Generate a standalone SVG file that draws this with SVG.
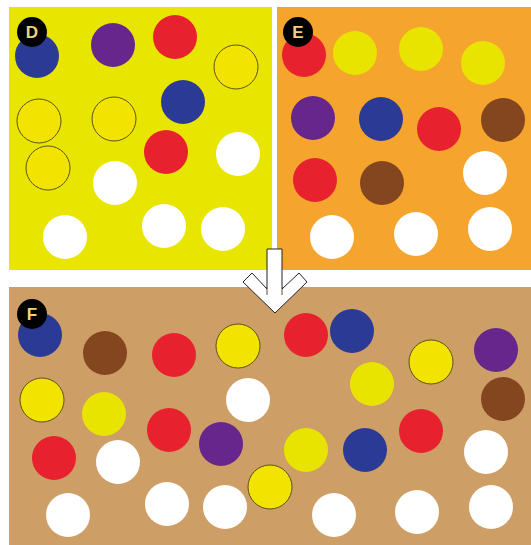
<svg xmlns="http://www.w3.org/2000/svg" width="531" height="545" viewBox="0 0 531 545">
<style>
.b{fill:#2b3a94}.p{fill:#66268c}.r{fill:#e8212e}.w{fill:#ffffff}.n{fill:#84461f}
.yo{fill:#f2e400;stroke:#5e5016;stroke-width:1}
.y{fill:#e8e400}
.lab{fill:#000}
.lt{font-family:"Liberation Sans",Arial,sans-serif;font-weight:bold;font-size:17px;fill:#f0d37a;text-anchor:middle;dominant-baseline:central}
</style>
<rect width="531" height="545" fill="#ffffff"/>
<g id="panelD">
<rect x="9" y="7" width="263" height="263" fill="#e8e600"/>
<circle class="b" cx="37" cy="56" r="22"/>
<circle class="p" cx="113" cy="45" r="22"/>
<circle class="r" cx="175" cy="37" r="22"/>
<circle class="yo" cx="236" cy="67" r="22"/>
<circle class="b" cx="183" cy="102" r="22"/>
<circle class="yo" cx="39" cy="121" r="22"/>
<circle class="yo" cx="114" cy="119" r="22"/>
<circle class="r" cx="166" cy="152" r="22"/>
<circle class="w" cx="238" cy="154" r="22"/>
<circle class="yo" cx="48" cy="168" r="22"/>
<circle class="w" cx="115" cy="183" r="22"/>
<circle class="w" cx="65" cy="237" r="22"/>
<circle class="w" cx="164" cy="226" r="22"/>
<circle class="w" cx="223" cy="229" r="22"/>
<circle class="lab" cx="32" cy="32" r="15"/>
<text class="lt" x="32" y="32">D</text>
</g>
<g id="panelE">
<rect x="277" y="7" width="254" height="263" fill="#f5a52e"/>
<circle class="r" cx="304" cy="55" r="22"/>
<circle class="y" cx="355" cy="53" r="22"/>
<circle class="y" cx="421" cy="49" r="22"/>
<circle class="y" cx="483" cy="63" r="22"/>
<circle class="p" cx="313" cy="118" r="22"/>
<circle class="b" cx="381" cy="119" r="22"/>
<circle class="r" cx="439" cy="129" r="22"/>
<circle class="n" cx="503" cy="120" r="22"/>
<circle class="r" cx="315" cy="180" r="22"/>
<circle class="n" cx="382" cy="183" r="22"/>
<circle class="w" cx="485" cy="173" r="22"/>
<circle class="w" cx="332" cy="237" r="22"/>
<circle class="w" cx="416" cy="234" r="22"/>
<circle class="w" cx="490" cy="229" r="22"/>
<circle class="lab" cx="298" cy="32" r="15"/>
<text class="lt" x="298" y="32">E</text>
</g>
<g id="panelF">
<rect x="9" y="287" width="522" height="258" fill="#cd9e66"/>
<circle class="b" cx="40" cy="335" r="22"/>
<circle class="n" cx="105" cy="353" r="22"/>
<circle class="r" cx="174" cy="355" r="22"/>
<circle class="yo" cx="238" cy="346" r="22"/>
<circle class="yo" cx="42" cy="400" r="22"/>
<circle class="y" cx="104" cy="414" r="22"/>
<circle class="w" cx="248" cy="400" r="22"/>
<circle class="r" cx="169" cy="430" r="22"/>
<circle class="p" cx="221" cy="444" r="22"/>
<circle class="r" cx="54" cy="458" r="22"/>
<circle class="w" cx="118" cy="462" r="22"/>
<circle class="yo" cx="270" cy="487" r="22"/>
<circle class="w" cx="68" cy="515" r="22"/>
<circle class="w" cx="167" cy="504" r="22"/>
<circle class="w" cx="225" cy="507" r="22"/>
<circle class="r" cx="306" cy="335" r="22"/>
<circle class="b" cx="352" cy="331" r="22"/>
<circle class="yo" cx="431" cy="362" r="22"/>
<circle class="p" cx="496" cy="350" r="22"/>
<circle class="y" cx="372" cy="384" r="22"/>
<circle class="n" cx="503" cy="399" r="22"/>
<circle class="y" cx="306" cy="450" r="22"/>
<circle class="b" cx="365" cy="450" r="22"/>
<circle class="r" cx="421" cy="431" r="22"/>
<circle class="w" cx="486" cy="452" r="22"/>
<circle class="w" cx="334" cy="515" r="22"/>
<circle class="w" cx="417" cy="512" r="22"/>
<circle class="w" cx="491" cy="507" r="22"/>
<circle class="lab" cx="32" cy="314" r="15"/>
<text class="lt" x="32" y="314">F</text>
</g>
<g id="connectors">
<polygon points="267,249 282,249 282,289 299,273 307,282 275,313 243,282 252,273 267,289" fill="#ffffff" stroke="#222" stroke-width="1" stroke-linejoin="miter"/>
<line x1="267" y1="289" x2="267" y2="295" stroke="#5a4a30" stroke-width="1"/>
<line x1="282" y1="289" x2="282" y2="295" stroke="#5a4a30" stroke-width="1"/>
</g>
</svg>
